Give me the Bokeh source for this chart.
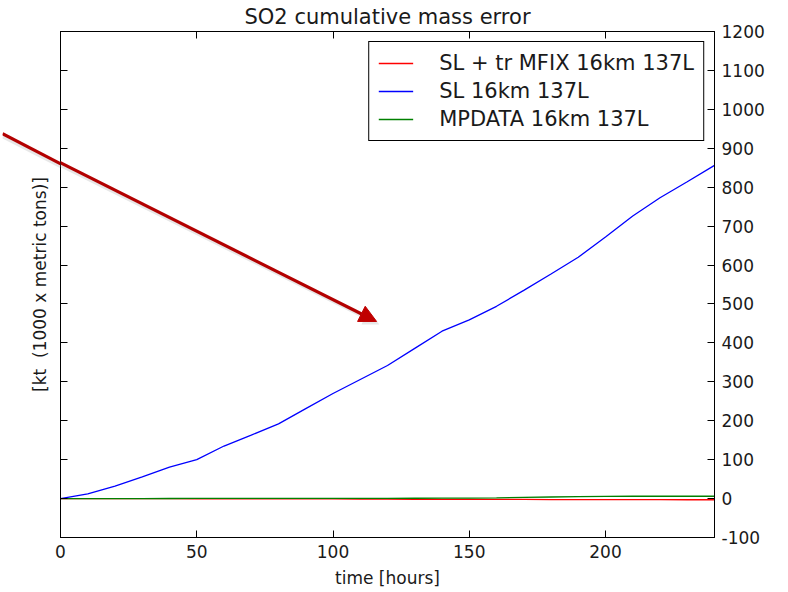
from bokeh.plotting import figure
from bokeh.layouts import column
from bokeh.models import (LinearAxis, FixedTicker, Range1d, Arrow, NormalHead)
from bokeh.embed import file_html
from bokeh.resources import INLINE
from bokeh.models import ColumnDataSource

# ---- data ----
hours = [0, 10, 20, 30, 40, 50, 60, 70, 80, 90, 100, 110, 120,
         130, 140, 150, 160, 170, 180, 190, 200, 210, 220, 230, 240]
sl_mfix = [0, 0, 0, 0, -0.3, -0.5, -0.5, -0.7, -0.8, -1, -1, -1.2, -1.5,
           -1.7, -2, -2, -2.2, -2.3, -2.5, -2.5, -2.5, -2.7, -2.8, -3, -3]
sl = [0, 12, 32, 56, 81, 100, 135, 163, 192, 231, 270, 306, 342,
      386, 430, 459, 494, 535, 577, 620, 672, 726, 773, 814, 856]
mpdata = [0, 0, 0, 0, 0.2, 0.3, 0.3, 0.4, 0.5, 0.5, 0.5, 0.6, 0.7,
          0.8, 1, 1.3, 2, 3, 4, 5, 5.5, 6, 6, 6, 6]

series_names = ["SL + tr MFIX 16km 137L", "SL 16km 137L", "MPDATA 16km 137L"]
series_colors = ["#ff0000", "#0000ff", "#008000"]

x_ticks = [0, 50, 100, 150, 200]
y_ticks = [-100, 0, 100, 200, 300, 400, 500, 600, 700, 800, 900, 1000, 1100, 1200]

title_text = "SO2 cumulative mass error"
x_label = "time [hours]"
y_label = "[kt\u00a0 (1000 x metric tons)]"

X_MIN, X_MAX = 0, 240
Y_MIN, Y_MAX = -100, 1200

# arrow annotation (data units)
arrow_start = (-22, 940)
arrow_end = (116, 455)

FONT = "DejaVu Sans"
TXT = "#1a1a1a"

FRAME_W, FRAME_H = 654, 506
BORDER_L, BORDER_T = 60, 32   # page position of the frame's top-left corner

p = figure(frame_width=FRAME_W, frame_height=FRAME_H,
           x_range=Range1d(X_MIN, X_MAX), y_range=Range1d(Y_MIN, Y_MAX),
           output_backend="svg", toolbar_location=None,
           y_axis_location="right",
           min_border_left=BORDER_L, min_border_right=58,
           min_border_top=24, min_border_bottom=46)

p.title.text = title_text
p.title.align = "center"
p.title.text_font = FONT
p.title.text_font_size = "21px"
p.title.text_font_style = "normal"
p.title.text_color = TXT
p.title.standoff = 5

p.grid.visible = False
p.outline_line_color = "black"
p.outline_line_width = 1
p.background_fill_color = "white"
p.border_fill_color = "white"

def style_axis(ax, labels=True):
    ax.major_tick_in = 7
    ax.major_tick_out = 0
    ax.minor_tick_line_color = None
    ax.axis_line_color = "black"
    ax.major_tick_line_color = "black"
    ax.major_label_text_font = FONT
    ax.major_label_text_color = TXT
    ax.axis_label_text_font = FONT
    ax.axis_label_text_font_style = "normal"
    ax.axis_label_text_font_size = "17px"
    ax.axis_label_text_color = TXT
    if labels:
        ax.major_label_text_font_size = "17px"
        ax.major_label_standoff = 7
    else:
        ax.major_label_text_font_size = "0px"
        ax.major_label_standoff = 0

# right axis (with labels)
ry = p.yaxis[0]
ry.ticker = FixedTicker(ticks=y_ticks)
ry.major_label_overrides = {t: str(t) for t in y_ticks}
style_axis(ry)

# bottom axis
bx = p.xaxis[0]
bx.ticker = FixedTicker(ticks=x_ticks)
bx.axis_label = x_label
bx.axis_label_standoff = 7
style_axis(bx)

# left axis (ticks only + label)
ly = LinearAxis(ticker=FixedTicker(ticks=y_ticks), axis_label=y_label)
style_axis(ly, labels=False)
ly.axis_label_standoff = 11
p.add_layout(ly, "left")

# top axis (ticks only)
tx = LinearAxis(ticker=FixedTicker(ticks=x_ticks))
style_axis(tx, labels=False)
p.add_layout(tx, "above")

src = ColumnDataSource(dict(t=hours, a=sl_mfix, b=sl, c=mpdata))
for col, color, name in zip(["a", "b", "c"], series_colors, series_names):
    p.line("t", col, source=src, line_color=color, line_width=1.3,
           legend_label=name)

legend = p.legend[0]
legend.location = "top_right"
legend.label_text_font = FONT
legend.label_text_font_size = "21px"
legend.label_text_color = TXT
legend.border_line_color = "black"
legend.border_line_width = 1
legend.border_line_alpha = 1
legend.background_fill_alpha = 1
legend.padding = 9
legend.spacing = 4
legend.label_height = 24
legend.glyph_height = 24
legend.glyph_width = 35
legend.label_standoff = 26
legend.margin = 10


def add_arrow(fig, with_head):
    head_s = NormalHead(size=16, fill_color="#bbbbbb", fill_alpha=0.35,
                        line_color=None) if with_head else None
    head_a = NormalHead(size=17, fill_color="#c00000",
                        line_color="#c00000") if with_head else None
    fig.add_layout(Arrow(x_start=arrow_start[0], y_start=arrow_start[1] - 8,
                         x_end=arrow_end[0] + 1, y_end=arrow_end[1] - 8,
                         line_color="#bbbbbb", line_width=3, line_alpha=0.35,
                         end=head_s))
    fig.add_layout(Arrow(x_start=arrow_start[0], y_start=arrow_start[1],
                         x_end=arrow_end[0], y_end=arrow_end[1],
                         line_color="#b30000", line_width=3.2, end=head_a))


add_arrow(p, True)

# small transparent overlay continuing the arrow outside the plot frame
# (same scale as the main frame, placed just left of it)
sx = FRAME_W / (X_MAX - X_MIN)
sy = FRAME_H / (Y_MAX - Y_MIN)
OV_W, OV_TOP, OV_H = BORDER_L, 120, 50      # page pixels
ov_y_top = Y_MAX - (OV_TOP - BORDER_T) / sy
ov_y_bot = ov_y_top - OV_H / sy
q = figure(width=OV_W, height=OV_H,
           x_range=Range1d(X_MIN - OV_W / sx, X_MIN),
           y_range=Range1d(ov_y_bot, ov_y_top),
           output_backend="svg", toolbar_location=None,
           x_axis_location=None, y_axis_location=None, title=None,
           min_border=0, outline_line_color=None)
q.background_fill_alpha = 0
q.border_fill_alpha = 0
q.grid.visible = False
add_arrow(q, False)
q.styles = {"position": "absolute", "left": "0px", "top": f"{OV_TOP}px"}

layout = column(p, q)
open("out.html", "w").write(file_html(layout, INLINE))
